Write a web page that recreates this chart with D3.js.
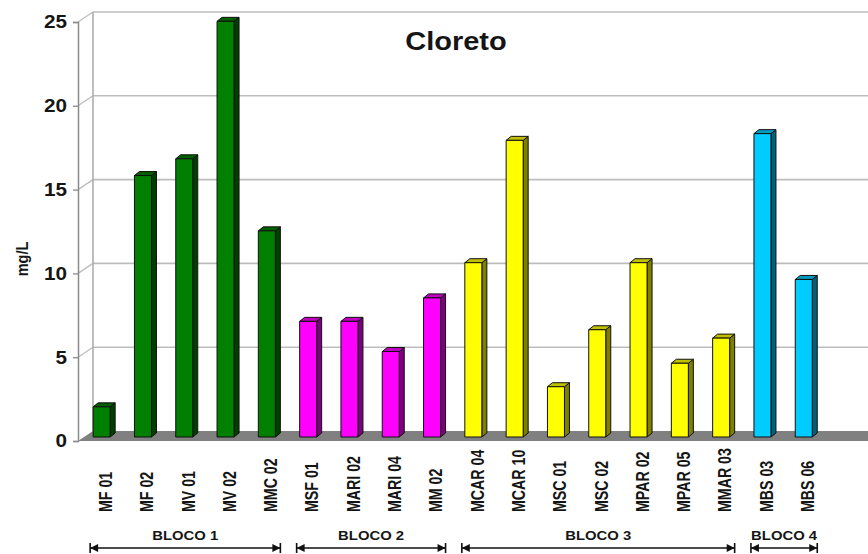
<!DOCTYPE html>
<html>
<head>
<meta charset="utf-8">
<script src="https://cdn.jsdelivr.net/npm/d3@7"></script>
<style>
  body { margin: 0; background: #fff; }
  text { font-family: "Liberation Sans", Arial, Helvetica, sans-serif; font-weight: bold; fill: #151515; }
</style>
</head>
<body>
<svg id="chart" width="868" height="554"></svg>
<script>
// Chloride concentration (mg/L) per sampling point
const categories = ["MF 01", "MF 02", "MV 01", "MV 02", "MMC 02",
                    "MSF 01", "MARI 02", "MARI 04", "MM 02",
                    "MCAR 04", "MCAR 10", "MSC 01", "MSC 02", "MPAR 02", "MPAR 05", "MMAR 03",
                    "MBS 03", "MBS 06"];
const values = [1.8, 15.6, 16.6, 24.8, 12.3,
                6.9, 6.9, 5.1, 8.3,
                10.4, 17.7, 3.0, 6.4, 10.4, 4.4, 5.9,
                18.1, 9.4];
// block each sampling point belongs to
const blockOf = [0, 0, 0, 0, 0, 1, 1, 1, 1, 2, 2, 2, 2, 2, 2, 2, 3, 3];
const blockNames = ["BLOCO 1", "BLOCO 2", "BLOCO 3", "BLOCO 4"];
const yTicks = [0, 5, 10, 15, 20, 25];
const title = "Cloreto";
const yTitle = "mg/L";

// face colours per block: front, side, top
const palette = [
  { front: "#007f00", side: "#003f00", top: "#005f00" },
  { front: "#ff00ff", side: "#7f007f", top: "#c000c0" },
  { front: "#ffff00", side: "#7f7f00", top: "#c0c000" },
  { front: "#00ccff", side: "#00607a", top: "#0099c0" }
];

const svg = d3.select("#chart");
const W = 868;
const SX = 1.16;              // horizontal text stretch
const wallDX = 15, wallDY = -10;   // depth of the 3-D box
const barDX = 5, barDY = -4;       // depth of each bar
const axisX = 78;

const yFront = d3.scaleLinear().domain([0, 25]).range([441, 22]);
const yBar = d3.scaleLinear().domain([0, 25]).range([437, 18]);
const x = d3.scaleBand().domain(categories)
  .range([81, 81 + 18 * 41.3]).paddingInner(0.588).paddingOuter(0.294);
const bw = x.bandwidth();

// back wall gridlines
const grid = svg.append("g");
yTicks.filter(t => t > 0).forEach(t => {
  const yb = yFront(t) + wallDY;
  grid.append("line").attr("x1", axisX + wallDX).attr("x2", W + 10)
    .attr("y1", yb).attr("y2", yb).attr("stroke", "#bdbdbd").attr("stroke-width", 1.6);
  grid.append("line").attr("x1", axisX).attr("x2", axisX + wallDX)
    .attr("y1", yFront(t)).attr("y2", yb).attr("stroke", "#bdbdbd").attr("stroke-width", 1.3);
});
// left wall back edge
grid.append("line").attr("x1", axisX + wallDX).attr("x2", axisX + wallDX)
  .attr("y1", yFront(25) + wallDY).attr("y2", yFront(0) + wallDY)
  .attr("stroke", "#a8a8a8").attr("stroke-width", 1.5);

// floor
const f0 = yFront(0);
svg.append("polygon")
  .attr("points", [[axisX, f0], [axisX + wallDX, f0 + wallDY], [W + 20, f0 + wallDY], [W + 5, f0]].join(" "))
  .attr("fill", "#808080");

// vertical axis with ticks
const yAxis = d3.axisLeft(yFront).tickValues(yTicks).tickSize(5).tickPadding(6).tickFormat(d3.format("d"));
const ax = svg.append("g").attr("transform", `translate(${axisX},0)`).call(yAxis);
ax.select(".domain").attr("stroke", "#8a8a8a").attr("stroke-width", 1.5);
ax.selectAll(".tick line").attr("stroke", "#8a8a8a").attr("stroke-width", 1.3);
ax.selectAll(".tick text")
  .attr("font-size", 18.5).attr("font-weight", "bold").attr("fill", "#151515")
  .attr("font-family", "'Liberation Sans', Arial, sans-serif")
  .each(function () {
    const t = d3.select(this);
    const xx = +t.attr("x");
    t.attr("x", null).attr("transform", `translate(${xx},0) scale(${SX - 0.04},1)`);
  });

// bars
const data = categories.map((c, i) => ({ c, v: values[i], b: blockOf[i] }));
const bars = svg.append("g").selectAll("g").data(data).join("g");
const edge = { stroke: "#101010", "stroke-width": 1, "stroke-linejoin": "round" };
function styled(sel) { Object.entries(edge).forEach(([k, v]) => sel.attr(k, v)); return sel; }

styled(bars.append("polygon")
  .attr("points", d => {
    const x0 = x(d.c) + bw, y0 = yBar(0), y1 = yBar(d.v);
    return [[x0, y0], [x0 + barDX, y0 + barDY], [x0 + barDX, y1 + barDY], [x0, y1]].join(" ");
  })
  .attr("fill", d => palette[d.b].side));
styled(bars.append("polygon")
  .attr("points", d => {
    const x0 = x(d.c), y1 = yBar(d.v);
    return [[x0, y1], [x0 + barDX, y1 + barDY], [x0 + bw + barDX, y1 + barDY], [x0 + bw, y1]].join(" ");
  })
  .attr("fill", d => palette[d.b].top));
styled(bars.append("rect")
  .attr("x", d => x(d.c)).attr("y", d => yBar(d.v))
  .attr("width", bw).attr("height", d => yBar(0) - yBar(d.v))
  .attr("fill", d => palette[d.b].front));

// category labels
svg.append("g").selectAll("text").data(categories).join("text")
  .attr("transform", c => `translate(${x(c) + bw / 2 + 4},512) scale(1.24,1) rotate(-90)`)
  .attr("dy", "0.36em").attr("text-anchor", "start").attr("font-size", 14.2)
  .text(c => c);

// title and axis title
svg.append("text").attr("transform", `translate(456,50) scale(${SX},1)`)
  .attr("text-anchor", "middle").attr("font-size", 25).attr("fill", "#111").text(title);
svg.append("text").attr("transform", `translate(22,259) scale(1.2,1) rotate(-90)`)
  .attr("text-anchor", "middle").attr("dy", "0.36em").attr("font-size", 14.5).text(yTitle);

// block brackets with double arrows
const blocks = blockNames.map((name, k) => {
  const members = categories.filter((c, i) => blockOf[i] === k);
  return { name, first: members[0], last: members[members.length - 1] };
});
const arrowY = 548;
const br = svg.append("g");
blocks.forEach(b => {
  const xa = x(b.first) - 3, xb = x(b.last) + bw + 5;
  br.append("line").attr("x1", xa).attr("x2", xb).attr("y1", arrowY).attr("y2", arrowY)
    .attr("stroke", "#111").attr("stroke-width", 1.6);
  [[xa, 1], [xb, -1]].forEach(([px, dir]) => {
    br.append("line").attr("x1", px).attr("x2", px).attr("y1", arrowY - 5).attr("y2", arrowY + 5)
      .attr("stroke", "#111").attr("stroke-width", 1.6);
    br.append("polygon")
      .attr("points", [[px, arrowY], [px + dir * 8, arrowY - 4], [px + dir * 8, arrowY + 4]].join(" "))
      .attr("fill", "#111");
  });
  br.append("text").attr("transform", `translate(${(xa + xb) / 2},540) scale(${SX},1)`)
    .attr("text-anchor", "middle").attr("font-size", 12.8).text(b.name);
});
</script>
</body>
</html>
